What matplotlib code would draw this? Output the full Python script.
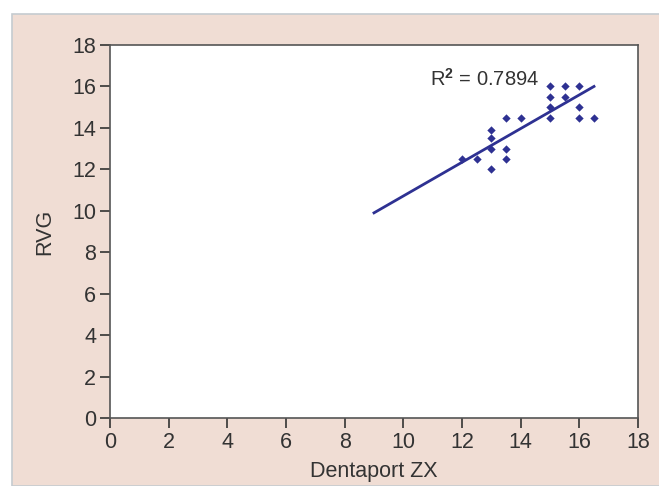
import matplotlib
matplotlib.use('Agg')
import matplotlib.pyplot as plt
from matplotlib.patches import Rectangle

plt.rcParams['font.family'] = ['Liberation Sans', 'DejaVu Sans']
plt.rcParams['mathtext.fontset'] = 'custom'
plt.rcParams['mathtext.rm'] = 'Liberation Sans'
plt.rcParams['mathtext.bf'] = 'Liberation Sans:bold'

# readings: Dentaport ZX vs RVG
dentaport = [15, 15.5, 16, 15, 15.5, 15, 16, 15, 16, 16.5,
             13.5, 14, 13, 13, 13, 13.5, 13.5, 12.5, 12, 13]
rvg = [16, 16, 16, 15.5, 15.5, 15, 15, 14.5, 14.5, 14.5,
       14.5, 14.5, 13.9, 13.5, 13, 13, 12.5, 12.5, 12.5, 12]
trend_x = [9, 16.5]
trend_y = [9.9, 16.0]
r2_label = '$\\mathrm{R}^{\\mathbf{2}}$ = 0.7894'
ticks = list(range(0, 20, 2))

blue = '#2e3192'

fig = plt.figure(figsize=(6.59, 4.86), dpi=100)
fig.add_artist(Rectangle((12 / 659, 0), 1, 1 - 14 / 486, transform=fig.transFigure,
                         facecolor='#f0ddd4', edgecolor='#c5cbd0', lw=1.2, zorder=-10))
ax = fig.add_axes([110 / 659, 1 - 418 / 486, 528 / 659, 373 / 486])
ax.set_facecolor('white')

ax.plot(trend_x, trend_y, color=blue, lw=2)
ax.scatter(dentaport, rvg, marker='D', s=18, color=blue, zorder=3, linewidths=0)
ax.text(10.9, 16.35, r2_label, fontsize=14.5, color='#333333', va='center')

ax.set_xlim(0, 18)
ax.set_ylim(0, 18)
ax.set_xticks(ticks)
ax.set_yticks(ticks)
ax.tick_params(labelsize=15.5, colors='#333333', length=7, width=1.2, pad=3)
for s in ax.spines.values():
    s.set_color('#555555')
    s.set_linewidth(1.2)
ax.set_xlabel('Dentaport ZX', fontsize=15.5, color='#333333', labelpad=6)
ax.set_ylabel('RVG', fontsize=15.5, color='#333333', labelpad=12)

fig.savefig('out.png', dpi=100)
